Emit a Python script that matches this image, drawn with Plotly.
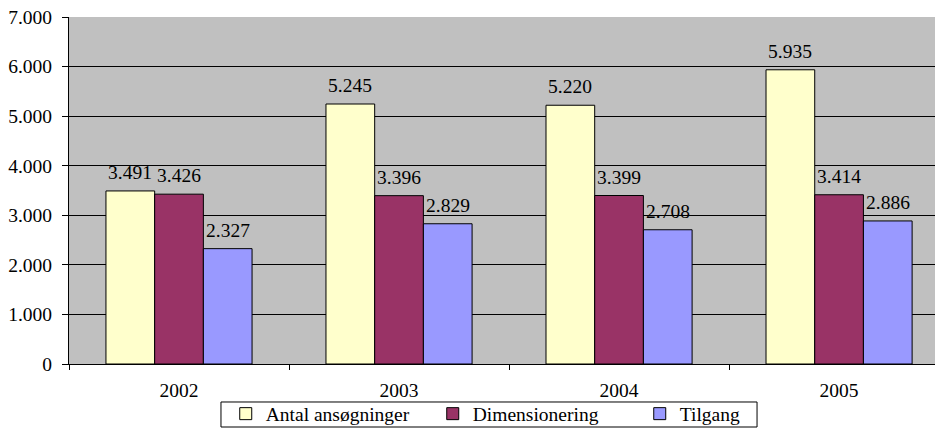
import plotly.graph_objects as go

years = ["2002", "2003", "2004", "2005"]
series_names = ["Antal ansøgninger", "Dimensionering", "Tilgang"]
antal = [3491, 5245, 5220, 5935]
dimensionering = [3426, 3396, 3399, 3414]
tilgang = [2327, 2829, 2708, 2886]
y_ticks = [0, 1000, 2000, 3000, 4000, 5000, 6000, 7000]
colors = ["#FFFFCC", "#993366", "#9999FF"]

FONT = "Liberation Serif, Tinos, Times New Roman, serif"
FS = 19.5
BARGAP = 0.336


def fmt(v):
    return f"{v:,}".replace(",", ".")


all_series = [antal, dimensionering, tilgang]
n = len(all_series)
bw = (1 - BARGAP) / n

fig = go.Figure()
for name, vals, col in zip(series_names, all_series, colors):
    fig.add_trace(go.Bar(
        x=years, y=vals, name=name,
        marker=dict(color=col, line=dict(color="black", width=1)),
    ))

annotations = []
for i, vals in enumerate(all_series):
    for j, v in enumerate(vals):
        annotations.append(dict(
            x=j + (i - (n - 1) / 2) * bw, y=v, xref="x", yref="y",
            text=fmt(v), showarrow=False,
            xanchor="center", yanchor="bottom", yshift=6,
            font=dict(family=FONT, size=FS, color="black"),
        ))

fig.update_layout(
    width=935, height=428,
    margin=dict(l=69, r=0, t=17, b=64, autoexpand=False),
    paper_bgcolor="white",
    plot_bgcolor="#C0C0C0",
    barmode="group",
    bargap=BARGAP,
    bargroupgap=0,
    font=dict(family=FONT, size=FS, color="black"),
    annotations=annotations,
    showlegend=True,
    legend=dict(
        orientation="h",
        x=0.181, xanchor="left",
        y=-0.144, yanchor="middle",
        bgcolor="rgba(0,0,0,0)",
        borderwidth=0,
        font=dict(family=FONT, size=FS, color="black"),
        itemwidth=30,
        entrywidth=162,
        entrywidthmode="pixels",
    ),
    shapes=[dict(
        type="rect", xref="paper", yref="paper",
        x0=0.1755, x1=0.7945, y0=-0.1816, y1=-0.1095,
        line=dict(color="black", width=1), fillcolor="white", layer="above",
    )],
    xaxis=dict(
        type="category",
        range=[-0.5, 3.436],
        automargin=False,
        showline=True, linecolor="black", linewidth=1,
        ticks="outside", tickson="boundaries", ticklen=5, tickcolor="black",
        showgrid=False,
        ticklabelstandoff=9,
    ),
    yaxis=dict(
        range=[0, 7000],
        automargin=False,
        tickvals=y_ticks,
        ticktext=[fmt(v) for v in y_ticks],
        showline=True, linecolor="black", linewidth=1,
        ticks="outside", ticklen=6, tickcolor="black",
        showgrid=True, gridcolor="black", gridwidth=1,
        zeroline=False,
        ticklabelstandoff=6,
    ),
)

fig.write_html(
    "out.html",
    config={"displayModeBar": False, "staticPlot": True},
    post_script="document.body.style.margin='0';document.body.style.overflow='hidden';",
)
